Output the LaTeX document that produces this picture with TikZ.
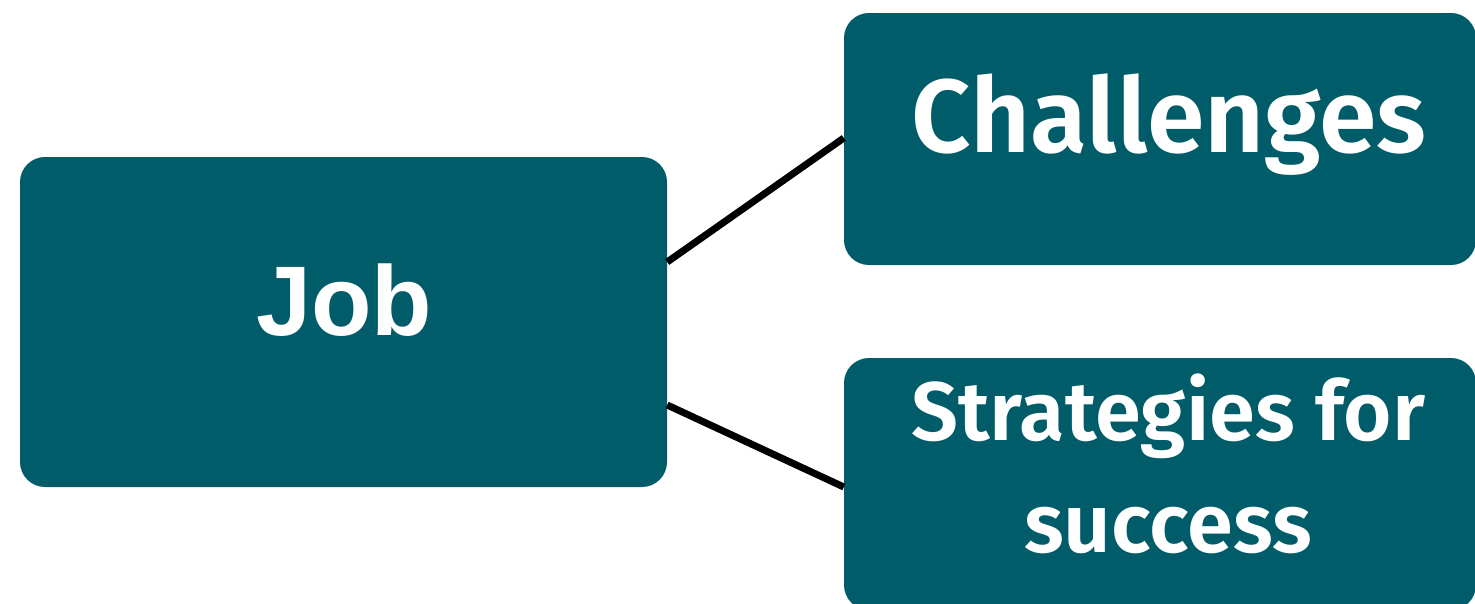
\documentclass[tikz,border=0pt]{standalone}
\usepackage{fontspec}
\newfontfamily\plexlike{Fira Sans}[BoldFont={Fira Sans SemiBold}]
\newfontfamily\joblike{Liberation Sans}
\definecolor{teal}{HTML}{015C69}
\begin{document}
\begin{tikzpicture}[x=1pt,y=-1pt,
  box/.style={fill=teal, draw=none, rounded corners=25pt, inner sep=0pt},
  lbl/.style={text=white, anchor=base, inner sep=0pt},
  conn/.style={line width=7pt, black}]
\useasboundingbox (0,0) rectangle (1475,603);
\node[box, minimum width=647pt, minimum height=330pt] (job) at (343.5,322) {};
\node[box, minimum width=632pt, minimum height=252pt] (chal) at (1160,139) {};
\node[box, minimum width=632pt, minimum height=252pt] (strat) at (1160,484) {};
\node[lbl, font=\joblike\bfseries\fontsize{99}{99}\selectfont] (jobt) at (344,335) {Job};
\node[lbl, font=\plexlike\bfseries\fontsize{104}{104}\selectfont] (chalt) at (1169,152) {Challenges};
\node[lbl, font=\plexlike\bfseries\fontsize{83}{83}\selectfont] (strat1) at (1168,440) {Strategies for};
\node[lbl, font=\plexlike\bfseries\fontsize{83}{83}\selectfont] (strat2) at (1168,552) {success};
\draw[conn] ([yshift=60pt]job.east) -- ([yshift=1pt]chal.west);
\draw[conn] ([yshift=-83pt]job.east) -- ([yshift=-3pt]strat.west);
\end{tikzpicture}
\end{document}
